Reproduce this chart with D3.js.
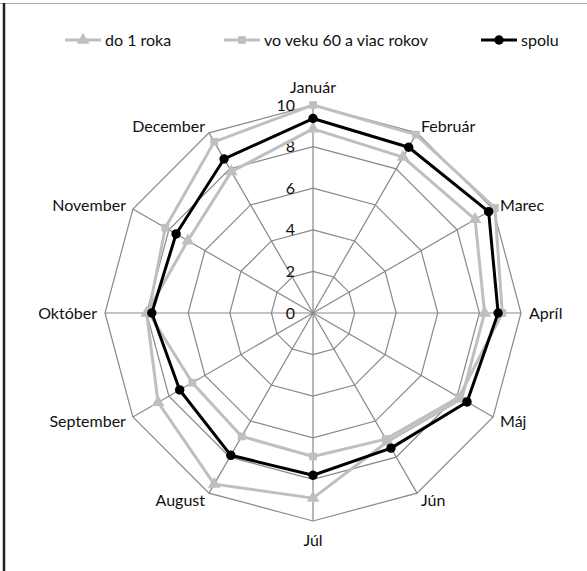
<!DOCTYPE html>
<html>
<head>
<meta charset="utf-8">
<script src="https://cdn.jsdelivr.net/npm/d3@7"></script>
<style>
  body { margin: 0; background: #fff; }
  svg { display: block; }
</style>
</head>
<body>
<div id="wrapper"></div>
<script>
// months (axes of the radar)
const months = ["Január", "Február", "Marec", "Apríl", "Máj", "Jún", "Júl", "August", "September", "Október", "November", "December"];
// series values
const doRoka = [8.85, 8.65, 9.0, 8.25, 8.25, 7.15, 8.9, 9.5, 8.6, 8.0, 6.95, 7.85];
const vo60 = [10.0, 9.9, 10.1, 9.1, 8.1, 7.0, 6.9, 6.85, 6.7, 7.9, 8.2, 9.5];
const spolu = [9.35, 9.2, 9.75, 8.9, 8.55, 7.5, 7.8, 7.9, 7.4, 7.75, 7.6, 8.55];
const ticks = [0, 2, 4, 6, 8, 10];
const legendNames = ["do 1 roka", "vo veku 60 a viac rokov", "spolu"];

let dimensions = {
  width: 587,
  height: 571,
  cx: 313,
  cy: 313,
  radius: 208
}

const font = "Lato, 'Open Sans', sans-serif";

let wrapper = d3.select("#wrapper").append("svg")
    .attr("width", dimensions.width)
    .attr("height", dimensions.height);

wrapper.append("rect")
    .attr("width", dimensions.width)
    .attr("height", dimensions.height)
    .attr("fill", "#fff");

// frame (only top and left edge visible)
wrapper.append("line")
    .attr("x1", 0).attr("x2", dimensions.width)
    .attr("y1", 3.5).attr("y2", 3.5)
    .attr("stroke", "#aaa").attr("stroke-width", 1);
wrapper.append("line")
    .attr("x1", 4).attr("x2", 4)
    .attr("y1", 3).attr("y2", dimensions.height)
    .attr("stroke", "#222").attr("stroke-width", 2.5);

let container = wrapper.append("g")
    .attr("transform", `translate(${dimensions.cx}, ${dimensions.cy})`);

const rScale = d3.scaleLinear().domain([0, 10]).range([0, dimensions.radius]);
const aScale = d3.scalePoint().domain(months).range([0, 2 * Math.PI * 11 / 12]);

const gridColor = "#888";

// rings
const ringLine = d3.lineRadial()
    .angle(m => aScale(m))
    .curve(d3.curveLinearClosed);

container.selectAll(".ring")
    .data(ticks.filter(t => t > 0))
    .enter()
    .append("path")
    .attr("class", "ring")
    .attr("d", t => ringLine.radius(() => rScale(t))(months))
    .attr("fill", "none")
    .attr("stroke", gridColor)
    .attr("stroke-width", 1.2);

// spokes
container.selectAll(".spoke")
    .data(months)
    .enter()
    .append("line")
    .attr("class", "spoke")
    .attr("x1", 0).attr("y1", 0)
    .attr("x2", m => rScale(10) * Math.sin(aScale(m)))
    .attr("y2", m => -rScale(10) * Math.cos(aScale(m)))
    .attr("stroke", gridColor)
    .attr("stroke-width", 1.2);

// tick labels
container.selectAll(".tick")
    .data(ticks)
    .enter()
    .append("text")
    .attr("class", "tick")
    .attr("x", -18)
    .attr("y", t => -rScale(t))
    .attr("dy", "0.35em")
    .attr("text-anchor", "end")
    .style("font-family", font)
    .style("font-size", "16px")
    .attr("fill", "#111")
    .text(t => t);

// month labels
const labelR = 216;
container.selectAll(".month")
    .data(months)
    .enter()
    .append("text")
    .attr("class", "month")
    .attr("x", m => labelR * Math.sin(aScale(m)))
    .attr("y", m => -labelR * Math.cos(aScale(m)))
    .attr("text-anchor", m => {
      let s = Math.sin(aScale(m));
      return Math.abs(s) < 0.01 ? "middle" : (s > 0 ? "start" : "end");
    })
    .attr("dy", m => {
      let c = Math.cos(aScale(m));
      if (c > 0.99) return "-0.25em";
      if (c < -0.99) return "1.05em";
      return "0.35em";
    })
    .style("font-family", font)
    .style("font-size", "16px")
    .attr("fill", "#111")
    .text(m => m);

// series
const series = [
  {name: legendNames[0], values: doRoka, color: "#bfbfbf", symbol: d3.symbolTriangle, size: 70},
  {name: legendNames[1], values: vo60, color: "#bfbfbf", symbol: d3.symbolSquare, size: 60},
  {name: legendNames[2], values: spolu, color: "#000", symbol: d3.symbolCircle, size: 70}
];

const valueLine = d3.lineRadial()
    .angle((d, i) => aScale(months[i]))
    .radius(d => rScale(d))
    .curve(d3.curveLinearClosed);

series.forEach(s => {
  container.append("path")
      .attr("d", valueLine(s.values))
      .attr("fill", "none")
      .attr("stroke", s.color)
      .attr("stroke-width", 3)
      .attr("stroke-linejoin", "round");

  container.selectAll(null)
      .data(s.values)
      .enter()
      .append("path")
      .attr("d", d3.symbol().type(s.symbol).size(s.size))
      .attr("fill", s.color)
      .attr("transform", (d, i) => {
        let a = aScale(months[i]);
        return "translate(" + (rScale(d) * Math.sin(a)) + "," + (-rScale(d) * Math.cos(a)) + ")";
      });
});

// legend
const legendX = [65, 224, 481];
const legend = wrapper.append("g");
series.forEach((s, i) => {
  let g = legend.append("g").attr("transform", `translate(${legendX[i]}, 40)`);
  g.append("line")
      .attr("x1", 0).attr("x2", 36)
      .attr("y1", 0).attr("y2", 0)
      .attr("stroke", s.color)
      .attr("stroke-width", 3);
  g.append("path")
      .attr("d", d3.symbol().type(s.symbol).size(s.size))
      .attr("fill", s.color)
      .attr("transform", "translate(18,0)");
  g.append("text")
      .attr("x", 40)
      .attr("y", 0)
      .attr("dy", "0.35em")
      .style("font-family", font)
      .style("font-size", "16px")
      .attr("fill", "#111")
      .text(s.name);
});
</script>
</body>
</html>
